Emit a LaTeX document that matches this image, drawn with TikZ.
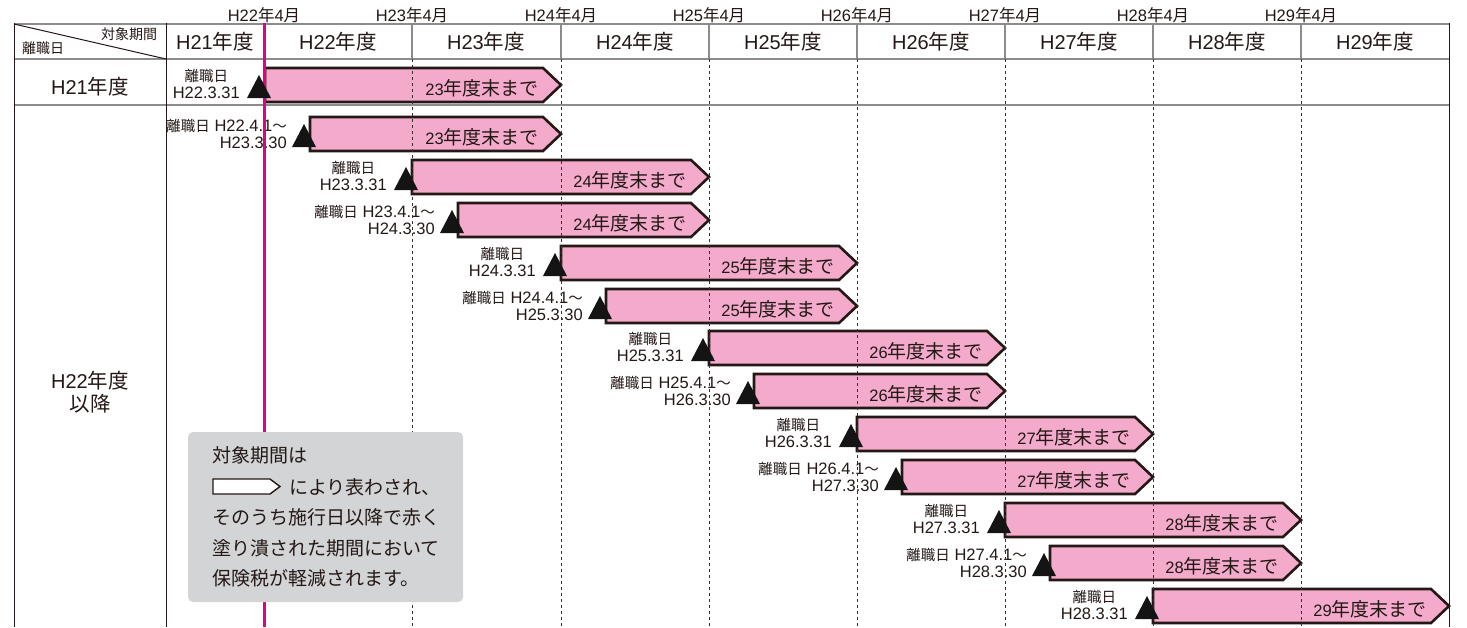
\documentclass[tikz,border=0pt]{standalone}
\usepackage{fontspec}
\setmainfont{Liberation Sans}
\newfontfamily\jp{Noto Sans CJK JP}
\definecolor{ink}{HTML}{231815}
\definecolor{barpink}{HTML}{F3AACB}
\definecolor{magline}{HTML}{E4007F}
\definecolor{gridgray}{HTML}{8C8C8C}
\definecolor{legendgray}{HTML}{D3D4D6}
\newcommand\jS[1]{{\jp\fontsize{14.5}{16.5}\selectfont #1}}
\newcommand\jM[1]{{\jp\fontsize{19}{19}\selectfont #1}}
\newcommand\jH[1]{{\jp\fontsize{20.5}{20.5}\selectfont #1}}
\newcommand\jT[1]{{\jp\fontsize{16.5}{16.5}\selectfont #1}}
\tikzset{
  barshape/.style={draw=ink, line width=2.6pt, fill=barpink, line join=miter},
  bartext/.style={font=\fontsize{16.5}{19}\selectfont, text=ink, anchor=east, inner sep=0pt},
  lblc/.style={font=\fontsize{16.5}{16.5}\selectfont, text=ink, anchor=east, align=center, inner sep=0pt},
  lblr/.style={font=\fontsize{16.5}{16.5}\selectfont, text=ink, anchor=east, align=right, inner sep=0pt},
  hdr/.style={font=\fontsize{20}{20}\selectfont, text=ink, inner sep=0pt},
  toplbl/.style={font=\fontsize{16.5}{16.5}\selectfont, text=ink, inner sep=0pt},
  cornerlbl/.style={font=\jp\fontsize{14}{14}\selectfont, text=ink, inner sep=0pt},
  legtext/.style={font=\jp\fontsize{19}{19}\selectfont, text=ink, anchor=west, inner sep=0pt},
  gridh/.style={draw=gridgray, line width=1.6pt},
  gridv/.style={draw=ink, line width=1pt},
  gridvh/.style={draw=gridgray, line width=1.3pt},
  dashv/.style={draw=ink!90, line width=0.9pt, dash pattern=on 3pt off 3pt},
  pinkline/.style={draw=magline, line width=3pt},
  tri/.style={fill=black!92},
}
\begin{document}
\begin{tikzpicture}[x=1pt,y=-1pt]
\useasboundingbox (0,0) rectangle (1467,627);
\def\rows{265/561/67/23, 310/561/116/23, 412/709/159/24, 458/709/202/24, 561/857/245/25, 606/857/288/25, 709/1005/330/26, 754/1005/373/26, 857/1153/416/27, 902/1153/459/27, 1005/1301/502/28, 1050/1301/545/28, 1153/1449/588/29}

% bars
\foreach \L/\tip/\T/\yr [count=\i] in \rows {
  \draw[barshape] (\L,\T+1) -- (\tip-18,\T+1) -- (\tip,\T+18) -- (\tip-18,\T+35) -- (\L,\T+35) -- cycle;
  \node[bartext] (bt\i) at (\tip-22,\T+21) {\yr\jM{年度末まで}};
}

% header texts
\node[cornerlbl] (corner1) at (129,34) {対象期間};
\node[cornerlbl] (corner2) at (43,48) {離職日};
\node[hdr] (h21) at (215,42) {H21\jH{年度}};
\node[hdr] (h22) at (338,42) {H22\jH{年度}};
\node[hdr] (h23) at (486,42) {H23\jH{年度}};
\node[hdr] (h24) at (635,42) {H24\jH{年度}};
\node[hdr] (h25) at (783,42) {H25\jH{年度}};
\node[hdr] (h26) at (931,42) {H26\jH{年度}};
\node[hdr] (h27) at (1079,42) {H27\jH{年度}};
\node[hdr] (h28) at (1227,42) {H28\jH{年度}};
\node[hdr] (h29) at (1375,42) {H29\jH{年度}};
\node[toplbl] (m22) at (264,15) {H22\jT{年}4\jT{月}};
\node[toplbl] (m23) at (412,15) {H23\jT{年}4\jT{月}};
\node[toplbl] (m24) at (561,15) {H24\jT{年}4\jT{月}};
\node[toplbl] (m25) at (709,15) {H25\jT{年}4\jT{月}};
\node[toplbl] (m26) at (857,15) {H26\jT{年}4\jT{月}};
\node[toplbl] (m27) at (1005,15) {H27\jT{年}4\jT{月}};
\node[toplbl] (m28) at (1153,15) {H28\jT{年}4\jT{月}};
\node[toplbl] (m29) at (1301,15) {H29\jT{年}4\jT{月}};
\node[hdr] (r21) at (90,87) {H21\jH{年度}};
\node[hdr, align=center, font=\fontsize{20}{23}\selectfont] (r22) at (90,392) {H22\jH{年度}\\\jH{以降}};

% labels
\node[lblc] (lab0) at (240,84) {\jS{離職日}\\H22.3.31};
\node[lblr] (lab1) at (287,134) {\jS{離職日} H22.4.1\jS{～}\\H23.3.30};
\node[lblc] (lab2) at (387,176) {\jS{離職日}\\H23.3.31};
\node[lblr] (lab3) at (435,220) {\jS{離職日} H23.4.1\jS{～}\\H24.3.30};
\node[lblc] (lab4) at (536,262) {\jS{離職日}\\H24.3.31};
\node[lblr] (lab5) at (583,306) {\jS{離職日} H24.4.1\jS{～}\\H25.3.30};
\node[lblc] (lab6) at (684,347) {\jS{離職日}\\H25.3.31};
\node[lblr] (lab7) at (731,391) {\jS{離職日} H25.4.1\jS{～}\\H26.3.30};
\node[lblc] (lab8) at (832,433) {\jS{離職日}\\H26.3.31};
\node[lblr] (lab9) at (879,477) {\jS{離職日} H26.4.1\jS{～}\\H27.3.30};
\node[lblc] (lab10) at (980,519) {\jS{離職日}\\H27.3.31};
\node[lblr] (lab11) at (1027,563) {\jS{離職日} H27.4.1\jS{～}\\H28.3.30};
\node[lblc] (lab12) at (1128,605) {\jS{離職日}\\H28.3.31};

% grid
\draw[gridh] (14,24) -- (1449,24);
\draw[gridh] (14,59) -- (1449,59);
\draw[gridh] (14,105) -- (1449,105);
\draw[gridv] (14,24) -- (166,59);
\foreach \x in {412,561,709,857,1005,1153,1301} {
  \draw[gridvh] (\x,24) -- (\x,59);
  \draw[dashv] (\x,59) -- (\x,627);
}
\draw[gridv] (14,23.2) -- (14,627);
\draw[gridv] (166,23.2) -- (166,627);
\draw[gridv] (1449,23.2) -- (1449,627);
\draw[pinkline] (264,23.2) -- (264,627);

% triangles
\foreach \L/\tip/\T/\yr in \rows {
  \fill[tri] (\L-18,\T+31) -- (\L+6,\T+31) -- (\L-6,\T+8) -- cycle;
}

% legend
\fill[legendgray, rounded corners=5pt] (188,432) rectangle (463,602);
\node[legtext] (leg1) at (212,455) {対象期間は};
\draw[draw=ink, fill=white, line width=1.4pt] (213,479) -- (270,479) -- (280,486.5) -- (270,494) -- (213,494) -- cycle;
\node[legtext] (leg2) at (289,487) {により表わされ、};
\node[legtext] (leg3) at (212,517) {そのうち施行日以降で赤く};
\node[legtext] (leg4) at (212,548) {塗り潰された期間において};
\node[legtext] (leg5) at (212,578) {保険税が軽減されます。};
\end{tikzpicture}
\end{document}
